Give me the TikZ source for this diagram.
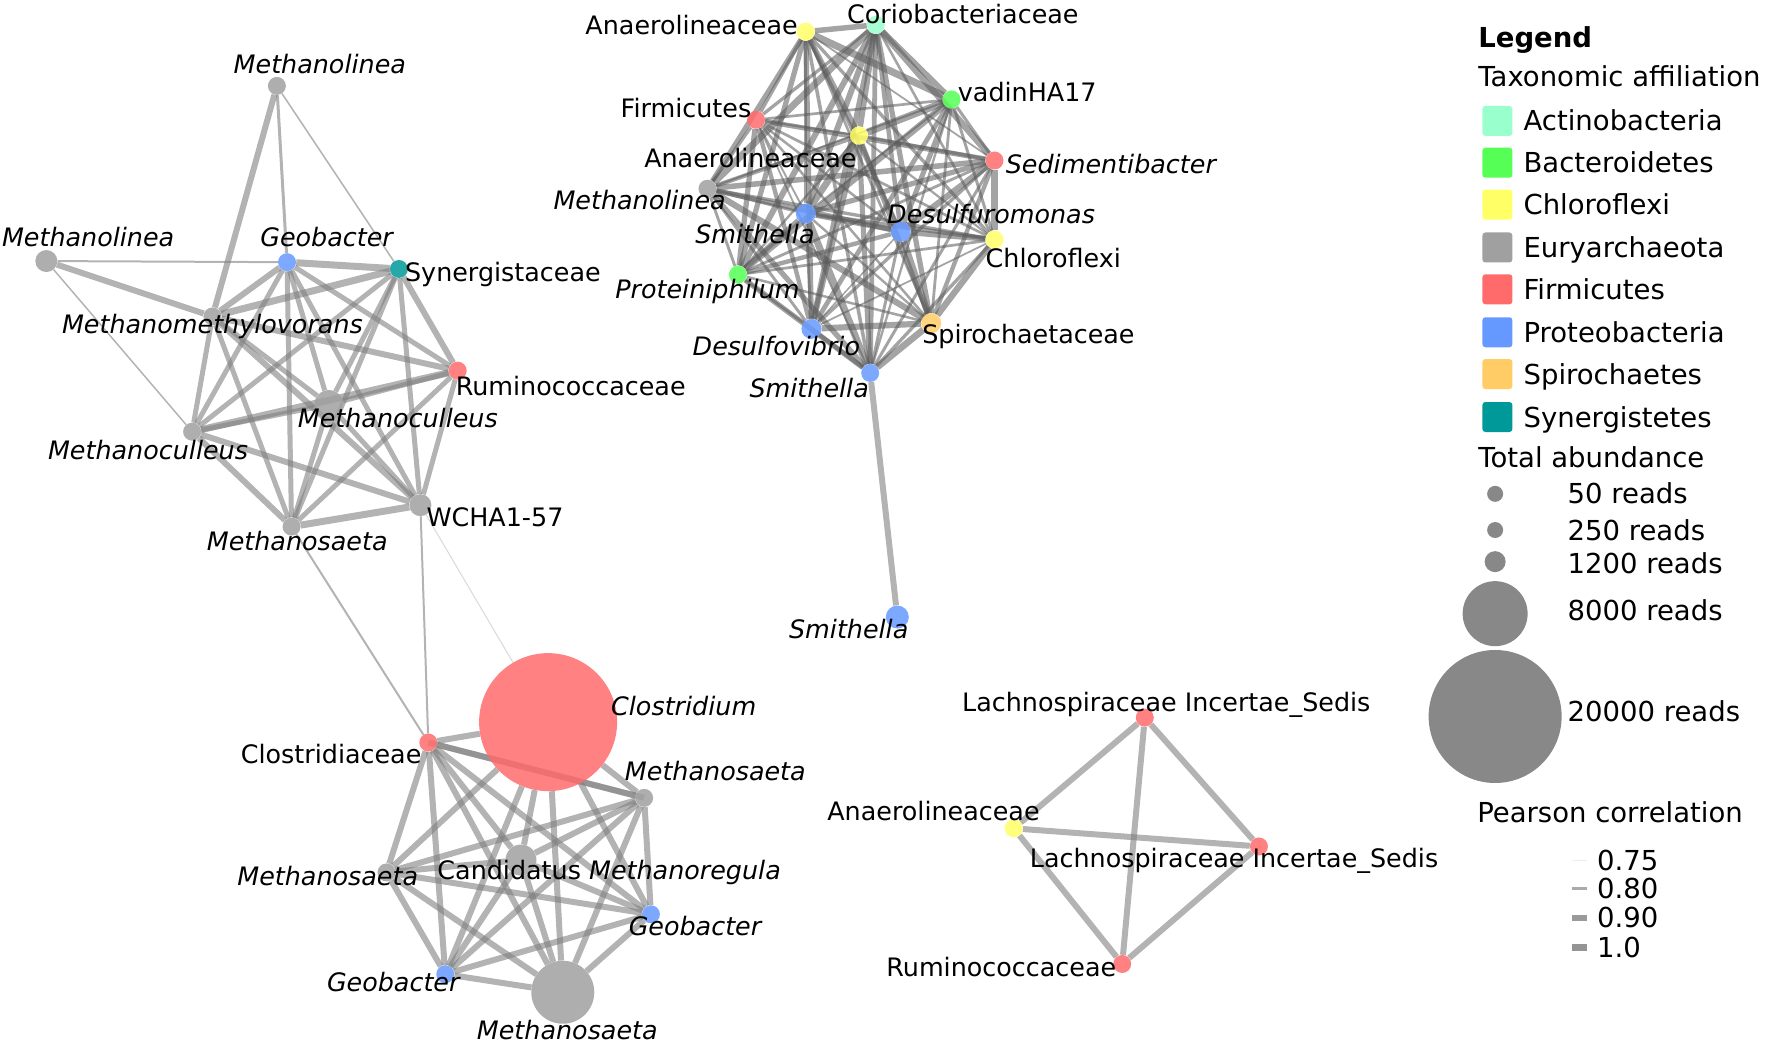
\documentclass[tikz,border=0pt]{standalone}
\usepackage{fontspec}
\setmainfont{DejaVu Sans}

\definecolor{actC}{HTML}{99FFCC}
\definecolor{bacC}{HTML}{55FF55}
\definecolor{chlC}{HTML}{FFFF66}
\definecolor{euryC}{HTML}{A0A0A0}
\definecolor{firC}{HTML}{FF6B6B}
\definecolor{proC}{HTML}{6699FF}
\definecolor{spiC}{HTML}{FFCC66}
\definecolor{synC}{HTML}{009999}
\definecolor{edgeC}{HTML}{808080}
\definecolor{edgeD}{HTML}{5A5A5A}
\definecolor{sizeC}{HTML}{888888}

\pgfdeclarelayer{bg}
\pgfsetlayers{bg,main}

\begin{document}
\begin{tikzpicture}[x=1.1301pt, y=-1.1301pt,
  nd/.style={circle, inner sep=0pt, minimum size=#1, fill opacity=0.85, draw=none},
  nd/.default=18pt,
  lk/.style={draw=edgeC, draw opacity=0.6, line width=#1},
  lk/.default=5pt,
  lbl/.style={inner sep=0pt, font=\fontsize{25.4}{30}\selectfont},
  ilbl/.style={lbl, font=\fontsize{25.4}{30}\selectfont\itshape},
  lg/.style={inner sep=0pt, anchor=west, text height=20pt, text depth=0pt,
    font=\fontsize{27.5}{32}\selectfont},
  sw/.style={rounded corners=3pt, minimum size=30pt, inner sep=0pt, draw=none}]

  %% ==== cluster 1 (top left) ====
  \node[nd=18pt, fill=euryC] (mlA) at (245,76) {};
  \node[nd=22pt, fill=euryC] (mlB) at (41,231) {};
  \node[nd, fill=proC] (geoA) at (254,232) {};
  \node[nd, fill=synC] (syn) at (353,238) {};
  \node[nd, fill=euryC] (mmv) at (188,280) {};
  \node[nd, fill=firC] (rumA) at (405,328) {};
  \node[nd=29pt, fill=euryC] (mcA) at (291,358) {};
  \node[nd, fill=euryC] (mcB) at (170,382) {};
  \node[nd=22pt, fill=euryC] (wch) at (372,447) {};
  \node[nd, fill=euryC] (msA) at (258,466) {};

  \node[ilbl] (tmlA) at (283,57) {Methanolinea};
  \node[ilbl] (tmlB) at (78,210) {Methanolinea};
  \node[ilbl] (tgeoA) at (289,210) {Geobacter};
  \node[lbl] (tsyn) at (445,243) {Synergistaceae};
  \node[ilbl] (tmmv) at (188,289) {Methanomethylovorans};
  \node[lbl] (trumA) at (505,342) {Ruminococcaceae};
  \node[ilbl] (tmcA) at (352,370) {Methanoculleus};
  \node[ilbl] (tmcB) at (131,398) {Methanoculleus};
  \node[lbl] (twch) at (438,458) {WCHA1-57};
  \node[ilbl] (tmsA) at (263,479) {Methanosaeta};

  %% ==== cluster 2 (top middle) ====
  \node[nd, fill=chlC] (anA) at (713,28) {};
  \node[nd, fill=actC] (cor) at (775,22) {};
  \node[nd, fill=bacC] (vad) at (842,88) {};
  \node[nd, fill=firC] (firm) at (669,106) {};
  \node[nd, fill=chlC] (anB) at (760,120) {};
  \node[nd, fill=firC] (sed) at (880,142) {};
  \node[nd, fill=euryC] (mlC) at (626,167) {};
  \node[nd=20pt, fill=proC] (smA) at (713,189) {};
  \node[nd=20pt, fill=proC] (des) at (797,205) {};
  \node[nd, fill=chlC] (chl) at (880,212) {};
  \node[nd, fill=bacC] (pro) at (653,243) {};
  \node[nd=20pt, fill=proC] (dsv) at (718,291) {};
  \node[nd=20pt, fill=spiC] (spi) at (824,286) {};
  \node[nd, fill=proC] (smC) at (770,330) {};
  \node[nd=23pt, fill=proC] (smD) at (794,546) {};

  \node[lbl] (tanA) at (612,22) {Anaerolineaceae};
  \node[lbl] (tcor) at (852,12) {Coriobacteriaceae};
  \node[lbl] (tvad) at (909,81) {vadinHA17};
  \node[lbl] (tfirm) at (607,96) {Firmicutes};
  \node[lbl] (tanB) at (664,140) {Anaerolineaceae};
  \node[ilbl] (tsed) at (983,145) {Sedimentibacter};
  \node[ilbl] (tmlC) at (566,177) {Methanolinea};
  \node[ilbl] (tsmA) at (668,207) {Smithella};
  \node[ilbl] (tdes) at (877,189) {Desulfuromonas};
  \node[lbl] (tchl) at (932,228) {Chloroflexi};
  \node[ilbl] (tpro) at (626,258) {Proteiniphilum};
  \node[ilbl] (tdsv) at (687,306) {Desulfovibrio};
  \node[lbl] (tspi) at (910,298) {Spirochaetaceae};
  \node[ilbl] (tsmC) at (716,343) {Smithella};
  \node[ilbl] (tsmD) at (751,557) {Smithella};

  %% ==== cluster 3 (bottom left) ====
  \node[nd=138pt, fill=firC] (clo) at (485,639) {};
  \node[nd, fill=firC] (clA) at (379,657) {};
  \node[nd, fill=euryC] (msB) at (570,706) {};
  \node[nd=31pt, fill=euryC] (can) at (461,761) {};
  \node[nd, fill=euryC] (msC) at (342,772) {};
  \node[nd, fill=proC] (geoB) at (576,809) {};
  \node[nd, fill=proC] (geoC) at (394,862) {};
  \node[nd=63pt, fill=euryC] (msD) at (498,878) {};

  \node[ilbl] (tclo) at (605,625) {Clostridium};
  \node[lbl] (tclA) at (293,667) {Clostridiaceae};
  \node[ilbl] (tmsB) at (633,682) {Methanosaeta};
  \node[lbl] (tcan) at (539,772) {Candidatus \textit{Methanoregula}};
  \node[ilbl] (tmsC) at (290,775) {Methanosaeta};
  \node[ilbl] (tgeoB) at (615,819) {Geobacter};
  \node[ilbl] (tgeoC) at (348,869) {Geobacter};
  \node[ilbl] (tmsD) at (502,911) {Methanosaeta};

  %% ==== cluster 4 (bottom middle) ====
  \node[nd, fill=firC] (laA) at (1013,635) {};
  \node[nd, fill=chlC] (anC) at (897,733) {};
  \node[nd, fill=firC] (laB) at (1114,749) {};
  \node[nd, fill=firC] (rumB) at (993,853) {};

  \node[lbl] (tlaA) at (1032,624) {Lachnospiraceae Incertae\_Sedis};
  \node[lbl] (tanC) at (826,718) {Anaerolineaceae};
  \node[lbl] (tlaB) at (1092,762) {Lachnospiraceae Incertae\_Sedis};
  \node[lbl] (trumB) at (886,856) {Ruminococcaceae};

  %% ==== edges ====
  \begin{pgfonlayer}{bg}
    \foreach \a/\b/\w in {mlA/mmv/6, mlA/geoA/3, mlA/syn/1.5, mlB/geoA/2, mlB/mmv/6,
        mlB/mcB/1.5, geoA/syn/7, geoA/mmv/6, geoA/mcB/5, geoA/msA/5, geoA/mcA/5,
        geoA/wch/5, geoA/rumA/5, syn/mmv/7, syn/mcB/5, syn/msA/5, syn/mcA/5,
        syn/wch/5, syn/rumA/6, mmv/rumA/6, mmv/mcB/5, mmv/msA/5, mmv/wch/6,
        mmv/mcA/5, rumA/mcB/7, rumA/mcA/5, rumA/msA/5, rumA/wch/5, mcB/msA/6,
        mcB/wch/6, mcB/mcA/5, msA/wch/7, msA/mcA/5, mcA/wch/5,
        msA/clA/2, wch/clA/2, smC/smD/6}
      \draw[lk=\w pt] (\a) -- (\b);
    \draw[lk=1pt, draw opacity=0.3] (wch) -- (clo);

    % cluster 2: all pairs
    \pgfmathsetseed{11}
    \foreach \a [count=\i] in {anA,cor,vad,firm,anB,sed,mlC,smA,des,chl,pro,dsv,spi,smC}
      \foreach \b [count=\j] in {anA,cor,vad,firm,anB,sed,mlC,smA,des,chl,pro,dsv,spi,smC}{
        \ifnum\j>\i
          \pgfmathsetmacro\w{1.5+6*rnd}
          \draw[lk=\w pt, draw=edgeD, draw opacity=0.55] (\a) -- (\b);
        \fi}

    % cluster 3 and 4: all pairs
    \foreach \a [count=\i] in {clo,clA,msB,can,msC,geoB,geoC,msD}
      \foreach \b [count=\j] in {clo,clA,msB,can,msC,geoB,geoC,msD}{
        \ifnum\j>\i \draw[lk=6pt] (\a) -- (\b); \fi}
    \draw[lk=6pt] (clA.center) -- (msB.center);
    \foreach \a [count=\i] in {laA,anC,laB,rumB}
      \foreach \b [count=\j] in {laA,anC,laB,rumB}{
        \ifnum\j>\i \draw[lk=6pt] (\a) -- (\b); \fi}
  \end{pgfonlayer}

  %% ==== legend ====
  \node[lg, font=\fontsize{27.5}{32}\selectfont\bfseries] (lgHead) at (1308,33) {Legend};
  \node[lg] (lgTax) at (1308,68) {Taxonomic affiliation};
  \foreach \c/\t/\y in {actC/Actinobacteria/107, bacC/Bacteroidetes/144,
      chlC/Chloroflexi/181, euryC/Euryarchaeota/219, firC/Firmicutes/256,
      proC/Proteobacteria/294, spiC/Spirochaetes/331, synC/Synergistetes/369}{
    \node[sw, fill=\c] (k\t) at (1325,\y) {};
    \node[lg] (t\t) at (1348,\y) {\t};
  }
  \node[lg] (lgAb) at (1308,405) {Total abundance};
  \foreach \d/\t/\y/\ty in {16pt/50/437/437, 16pt/250/469/469, 21pt/1200/497/499,
      65pt/8000/543/540, 133pt/20000/634/630}{
    \node[circle, inner sep=0pt, minimum size=\d, fill=sizeC] (s\t) at (1323,\y) {};
    \node[lg] (ts\t) at (1387,\ty) {\t{} reads};
  }
  \node[lg] (lgPc) at (1307,719) {Pearson correlation};
  \foreach \w/\o/\t/\y in {1/0.15/0.75/761, 3/0.7/0.80/786, 6/0.85/0.90/812, 7/0.9/1.0/838}{
    \draw[draw=sizeC, draw opacity=\o, line width=\w pt] (1391,\y) -- (1404,\y);
    \node[lg] (tp\y) at (1413,\y) {\t};
  }

  \pgfresetboundingbox
  \path[use as bounding box] (0,0) rectangle (1568,923);
\end{tikzpicture}
\end{document}
